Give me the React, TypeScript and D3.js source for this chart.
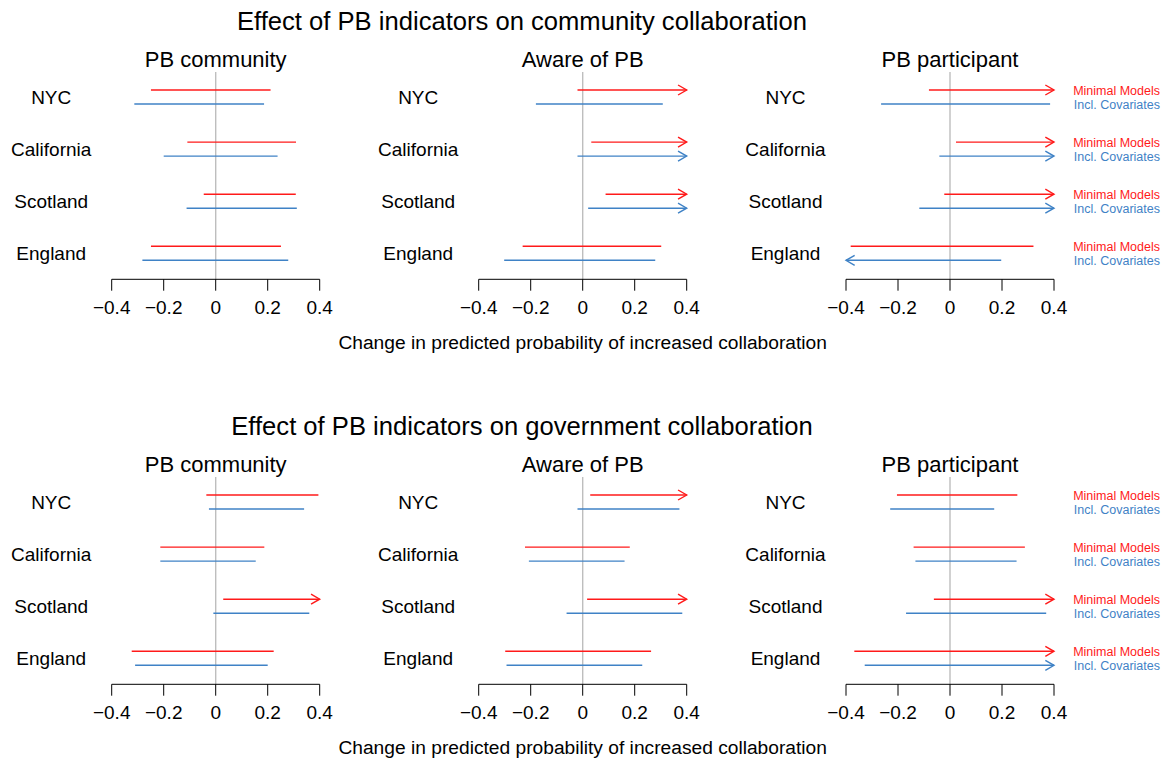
import React from 'react'
import * as d3 from 'd3'

// rows (top to bottom) and panels
const countries = ['NYC', 'California', 'Scotland', 'England']
const panelTitles = ['PB community', 'Aware of PB', 'PB participant']
const blockTitles = [
  'Effect of PB indicators on community collaboration',
  'Effect of PB indicators on government collaboration',
]
const xTicks = [-0.4, -0.2, 0, 0.2, 0.4]
const xLabel = 'Change in predicted probability of increased collaboration'
const legendLabels = ['Minimal Models', 'Incl. Covariates']

// off-scale bound: drawn clipped at the axis limit with an arrow
const OFF = 0.5

// [lower, upper] per country, community collaboration
const commMinimal = [
  [[-0.249, 0.211], [-0.109, 0.309], [-0.046, 0.308], [-0.249, 0.251]],
  [[-0.02, OFF], [0.033, OFF], [0.088, OFF], [-0.231, 0.302]],
  [[-0.081, OFF], [0.023, OFF], [-0.022, OFF], [-0.382, 0.321]],
]
const commCovariates = [
  [[-0.313, 0.186], [-0.2, 0.238], [-0.112, 0.312], [-0.282, 0.279]],
  [[-0.18, 0.308], [-0.02, OFF], [0.021, OFF], [-0.302, 0.279]],
  [[-0.265, 0.385], [-0.041, OFF], [-0.118, OFF], [-OFF, 0.197]],
]

// government collaboration
const govMinimal = [
  [[-0.036, 0.395], [-0.213, 0.187], [0.029, OFF], [-0.323, 0.223]],
  [[0.029, OFF], [-0.222, 0.181], [0.017, OFF], [-0.298, 0.263]],
  [[-0.204, 0.259], [-0.14, 0.288], [-0.062, OFF], [-0.368, OFF]],
]
const govCovariates = [
  [[-0.026, 0.34], [-0.213, 0.154], [-0.009, 0.36], [-0.31, 0.2]],
  [[-0.02, 0.372], [-0.207, 0.161], [-0.062, 0.383], [-0.293, 0.229]],
  [[-0.23, 0.17], [-0.133, 0.256], [-0.169, 0.37], [-0.328, OFF]],
]

const RED = '#ff1a1a'
const BLUE = '#3f82c6'
const FONT = '"Liberation Sans", Arial, Helvetica, sans-serif'

const W = 1166
const H = 759
const BLOCK_DY = 405
const zeros = [215.7, 582.7, 950]
const halfSpan = 104

const yRow = d3.scalePoint<string>().domain(countries).range([90, 246.3])
const COV_DY = 14

function Interval({ x, y, lo, hi, color }: {
  x: d3.ScaleLinear<number, number>; y: number; lo: number; hi: number; color: string
}) {
  const [dmin, dmax] = x.domain()
  const x1 = x(Math.max(lo, dmin))
  const x2 = x(Math.min(hi, dmax))
  const L = 10
  const bx = L * Math.cos(Math.PI / 6)
  const by = L * Math.sin(Math.PI / 6)
  return (
    <g stroke={color} strokeWidth={1.4} fill="none">
      <line x1={x1} x2={x2} y1={y} y2={y} />
      {hi > dmax && <path d={`M${x2 - bx},${y - by}L${x2},${y}L${x2 - bx},${y + by}`} />}
      {lo < dmin && <path d={`M${x1 + bx},${y - by}L${x1},${y}L${x1 + bx},${y + by}`} />}
    </g>
  )
}

function Panel({ idx, minimal, cov }: { idx: number; minimal: number[][]; cov: number[][] }) {
  const x = d3.scaleLinear().domain([-0.4, 0.4]).range([zeros[idx] - halfSpan, zeros[idx] + halfSpan])
  const fmt = (d: number) => (d === 0 ? '0' : d3.format('.1f')(d).replace('-', '\u2212'))
  return (
    <g>
      <text x={x(0)} y={67} textAnchor="middle" fontSize={22}>{panelTitles[idx]}</text>
      <line x1={x(0)} x2={x(0)} y1={72} y2={279.3} stroke="#bebebe" strokeWidth={1.4} />
      {countries.map((c, i) => (
        <g key={c}>
          <text x={x(0) - 164.5} y={yRow(c)! + 13.8} textAnchor="middle" fontSize={19}>{c}</text>
          <Interval x={x} y={yRow(c)!} lo={minimal[i][0]} hi={minimal[i][1]} color={RED} />
          <Interval x={x} y={yRow(c)! + COV_DY} lo={cov[i][0]} hi={cov[i][1]} color={BLUE} />
          {idx === 2 && (
            <g fontSize={12.5} textAnchor="end">
              <text x={1160} y={yRow(c)! + 4.5} fill={RED}>{legendLabels[0]}</text>
              <text x={1160} y={yRow(c)! + COV_DY + 4.5} fill={BLUE}>{legendLabels[1]}</text>
            </g>
          )}
        </g>
      ))}
      <g stroke="#000" strokeWidth={1}>
        <line x1={x(-0.4)} x2={x(0.4)} y1={279.3} y2={279.3} />
        {xTicks.map(t => (
          <line key={t} x1={x(t)} x2={x(t)} y1={279.3} y2={290.7} />
        ))}
      </g>
      {xTicks.map(t => (
        <text key={t} x={x(t)} y={314} textAnchor="middle" fontSize={19}>{fmt(t)}</text>
      ))}
    </g>
  )
}

function Block({ b, minimal, cov }: { b: number; minimal: number[][][]; cov: number[][][] }) {
  return (
    <g transform={`translate(0,${b * BLOCK_DY})`}>
      <text x={522} y={30} textAnchor="middle" fontSize={25.6}>{blockTitles[b]}</text>
      {panelTitles.map((_, i) => (
        <Panel key={i} idx={i} minimal={minimal[i]} cov={cov[i]} />
      ))}
      <text x={zeros[1]} y={349} textAnchor="middle" fontSize={19.2}>{xLabel}</text>
    </g>
  )
}

export default function App() {
  return (
    <svg
      width={W}
      height={H}
      style={{ position: 'absolute', left: 0, top: 0, background: '#fff' }}
      fontFamily={FONT}
    >
      <rect width={W} height={H} fill="#fff" />
      <Block b={0} minimal={commMinimal} cov={commCovariates} />
      <Block b={1} minimal={govMinimal} cov={govCovariates} />
    </svg>
  )
}
